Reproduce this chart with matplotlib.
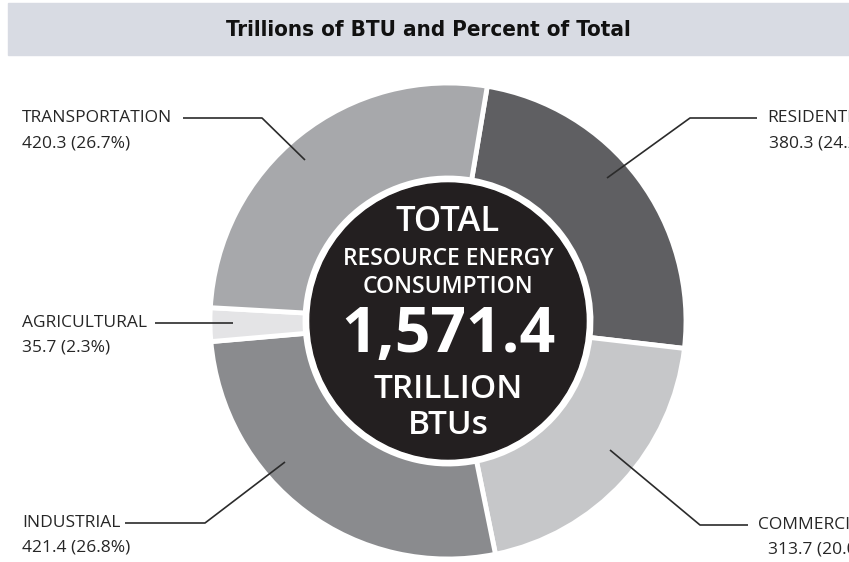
import matplotlib
matplotlib.use("Agg")
import matplotlib.pyplot as plt
from matplotlib.patches import Circle, Rectangle

# ---------------------------------------------------------------------------
# Data
# ---------------------------------------------------------------------------
sectors = ["RESIDENTIAL", "COMMERCIAL", "INDUSTRIAL", "AGRICULTURAL", "TRANSPORTATION"]
values = [380.3, 313.7, 421.4, 35.7, 420.3]
percents = [24.2, 20.0, 26.8, 2.3, 26.7]
total = 1571.4
colors = ["#5f5f62", "#c6c7c9", "#8a8b8e", "#e4e4e6", "#a7a8ab"]

title = "Trillions of BTU and Percent of Total"

W, H = 849, 562
CX, CY = 448, H - 321
R_OUT, R_IN = 238, 143

fig = plt.figure(figsize=(W / 100, H / 100), dpi=100)
ax = fig.add_axes([0, 0, 1, 1])

# title band
ax.add_patch(Rectangle((8, H - 55), W - 8, 52, color="#d8dbe3", zorder=0))
ax.text(428, H - 30, title, ha="center", va="center", fontsize=16,
        fontweight="bold", fontstretch="condensed",
        family=["DejaVu Sans"], color="#111111")

# donut
ax.pie(values, colors=colors, startangle=80.5, counterclock=False,
       center=(CX, CY), radius=R_OUT, frame=True,
       wedgeprops=dict(width=R_OUT - R_IN, edgecolor="white", linewidth=3.5))
ax.set_xlim(0, W)
ax.set_ylim(0, H)
ax.set_aspect("equal")
ax.axis("off")

ax.add_patch(Circle((CX, CY), R_IN, color="white", zorder=3))
ax.add_patch(Circle((CX, CY), R_IN - 5, color="#231f20", zorder=4))

cfont = ["Open Sans", "DejaVu Sans"]
center_lines = [
    ("TOTAL", 222, 25, "semibold"),
    ("RESOURCE ENERGY", 259, 16.5, "semibold"),
    ("CONSUMPTION", 287, 16.5, "semibold"),
    (f"{total:,.1f}", 335, 45, "bold"),
    ("TRILLION", 389, 24, "semibold"),
    ("BTUs", 425, 24, "semibold"),
]
for txt, y, fs, fw in center_lines:
    ax.text(CX, H - y, txt, ha="center", va="center", fontsize=fs,
            fontweight=fw, family=cfont, color="white", zorder=5)

# labels + leader lines (pixel coords, y from top)
label_pos = {
    "TRANSPORTATION": (22, 118),
    "AGRICULTURAL": (22, 323),
    "INDUSTRIAL": (22, 523),
    "RESIDENTIAL": (767, 118),
    "COMMERCIAL": (758, 525),
}
value_x = {"RESIDENTIAL": 769, "COMMERCIAL": 768}
leaders = {
    "TRANSPORTATION": [(183, 118), (262, 118), (305, 160)],
    "AGRICULTURAL": [(155, 323), (233, 323)],
    "INDUSTRIAL": [(125, 523), (205, 523), (285, 462)],
    "RESIDENTIAL": [(607, 178), (690, 118), (757, 118)],
    "COMMERCIAL": [(610, 450), (700, 525), (748, 525)],
}

lfont = ["Open Sans", "DejaVu Sans"]
for name, val, pct in zip(sectors, values, percents):
    x, y = label_pos[name]
    ax.text(x, H - y, name, ha="left", va="center", fontsize=12.5,
            family=lfont, color="#262626", zorder=6)
    ax.text(value_x.get(name, x), H - y - 25, f"{val} ({pct}%)", ha="left",
            va="center", fontsize=12.5, family=lfont, color="#262626", zorder=6)
    pts = leaders[name]
    ax.plot([p[0] for p in pts], [H - p[1] for p in pts], color="#2b2b2b",
            lw=1.2, zorder=6, solid_capstyle="butt")

fig.savefig("out.png", dpi=100)
